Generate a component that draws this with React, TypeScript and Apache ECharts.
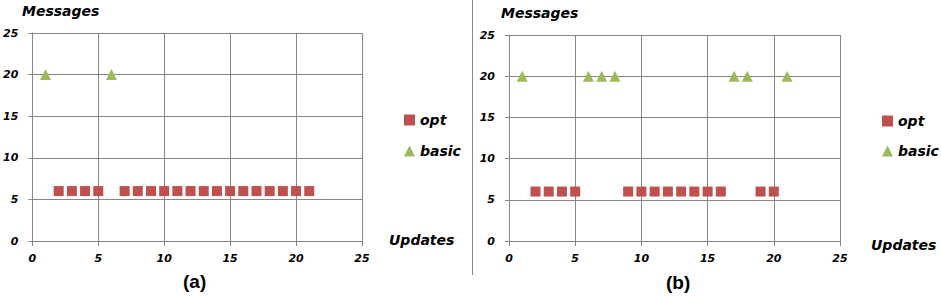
import React, { useEffect, useRef } from "react";
import * as echarts from "echarts";

const xTicks = [0, 5, 10, 15, 20, 25];
const yTicks = [0, 5, 10, 15, 20, 25];
const seriesNames = ["opt", "basic"];

const optA: number[][] = [
  [2, 6], [3, 6], [4, 6], [5, 6], [7, 6], [8, 6], [9, 6], [10, 6], [11, 6], [12, 6],
  [13, 6], [14, 6], [15, 6], [16, 6], [17, 6], [18, 6], [19, 6], [20, 6], [21, 6],
];
const basicA: number[][] = [[1, 20], [6, 20]];

const optB: number[][] = [
  [2, 6], [3, 6], [4, 6], [5, 6], [9, 6], [10, 6], [11, 6], [12, 6], [13, 6],
  [14, 6], [15, 6], [16, 6], [19, 6], [20, 6],
];
const basicB: number[][] = [[1, 20], [6, 20], [7, 20], [8, 20], [17, 20], [18, 20], [21, 20]];

const panelLabels = ["(a)", "(b)"];
const yTitle = "Messages";
const xTitle = "Updates";

const RED = "#C0504D";
const GREEN = "#9BBB59";
const GRAY = "#868686";
const FONT = "DejaVu Sans";

export default function App() {
  const ref = useRef<HTMLDivElement>(null);
  useEffect(() => {
    if (!ref.current) return;
    const chart = echarts.init(ref.current, null, { renderer: "svg" });
    const tickLabel = {
      fontFamily: FONT,
      fontStyle: "italic" as const,
      fontWeight: "bold" as const,
      fontSize: 11,
      color: "#000",
    };
    const mkX = (gi: number) => ({
      type: "value",
      gridIndex: gi,
      min: xTicks[0],
      max: xTicks[xTicks.length - 1],
      interval: 5,
      axisLine: { show: true, lineStyle: { color: GRAY, width: 1 } },
      axisTick: { show: true, length: 5, lineStyle: { color: GRAY } },
      splitLine: { show: true, lineStyle: { color: GRAY, width: 1 } },
      axisLabel: { ...tickLabel, margin: 12 },
    });
    const mkY = (gi: number) => ({
      type: "value",
      gridIndex: gi,
      min: yTicks[0],
      max: yTicks[yTicks.length - 1],
      interval: 5,
      axisLine: { show: true, lineStyle: { color: GRAY, width: 1 } },
      axisTick: { show: true, length: 4, lineStyle: { color: GRAY } },
      splitLine: { show: true, lineStyle: { color: GRAY, width: 1 } },
      axisLabel: { ...tickLabel, margin: 14 },
    });
    const legendText = {
      fontFamily: FONT,
      fontStyle: "italic" as const,
      fontWeight: "bold" as const,
      fontSize: 14,
      color: "#000",
    };
    const mkLegend = (left: number, top: number, gap: number) => ({
      orient: "vertical",
      left,
      top,
      padding: 0,
      itemWidth: 11,
      itemHeight: 11,
      itemGap: gap,
      textStyle: legendText,
      selectedMode: false,
      data: [
        { name: seriesNames[0], icon: "rect" },
        { name: seriesNames[1], icon: "triangle" },
      ],
    });
    const titleStyle = {
      fontFamily: FONT,
      fontStyle: "italic",
      fontWeight: "bold",
      fontSize: 14,
      fill: "#000",
    };
    const panelStyle = {
      fontFamily: "Liberation Sans",
      fontWeight: "bold",
      fontSize: 19,
      fill: "#000",
    };
    chart.setOption({
      animation: false,
      grid: [
        { left: 31, top: 33, width: 331, height: 208 },
        { left: 509, top: 35, width: 331, height: 206 },
      ],
      xAxis: [mkX(0), mkX(1)],
      yAxis: [mkY(0), mkY(1)],
      legend: [mkLegend(404, 113, 17), mkLegend(882, 114, 16)],
      series: [
        { name: seriesNames[0], type: "scatter", xAxisIndex: 0, yAxisIndex: 0, data: optA, symbol: "rect", symbolSize: 10, itemStyle: { color: RED, opacity: 1 } },
        { name: seriesNames[1], type: "scatter", xAxisIndex: 0, yAxisIndex: 0, data: basicA, symbol: "triangle", symbolSize: 11, itemStyle: { color: GREEN, opacity: 1 } },
        { name: seriesNames[0], type: "scatter", xAxisIndex: 1, yAxisIndex: 1, data: optB, symbol: "rect", symbolSize: 10, itemStyle: { color: RED, opacity: 1 } },
        { name: seriesNames[1], type: "scatter", xAxisIndex: 1, yAxisIndex: 1, data: basicB, symbol: "triangle", symbolSize: 11, itemStyle: { color: GREEN, opacity: 1 } },
      ],
      graphic: [
        { type: "line", shape: { x1: 472.5, y1: 0, x2: 472.5, y2: 275 }, style: { stroke: GRAY, lineWidth: 1 } },
        { type: "text", left: 22, top: 4, style: { text: yTitle, ...titleStyle } },
        { type: "text", left: 501, top: 6, style: { text: yTitle, ...titleStyle } },
        { type: "text", left: 389, top: 233, style: { text: xTitle, ...titleStyle } },
        { type: "text", left: 871, top: 238, style: { text: xTitle, ...titleStyle } },
        { type: "text", left: 183, top: 272, style: { text: panelLabels[0], ...panelStyle } },
        { type: "text", left: 666, top: 273, style: { text: panelLabels[1], ...panelStyle } },
      ],
    });
    return () => chart.dispose();
  }, []);
  return (
    <div
      ref={ref}
      style={{ position: "fixed", left: 0, top: 0, width: 941, height: 297, background: "#fff" }}
    />
  );
}
